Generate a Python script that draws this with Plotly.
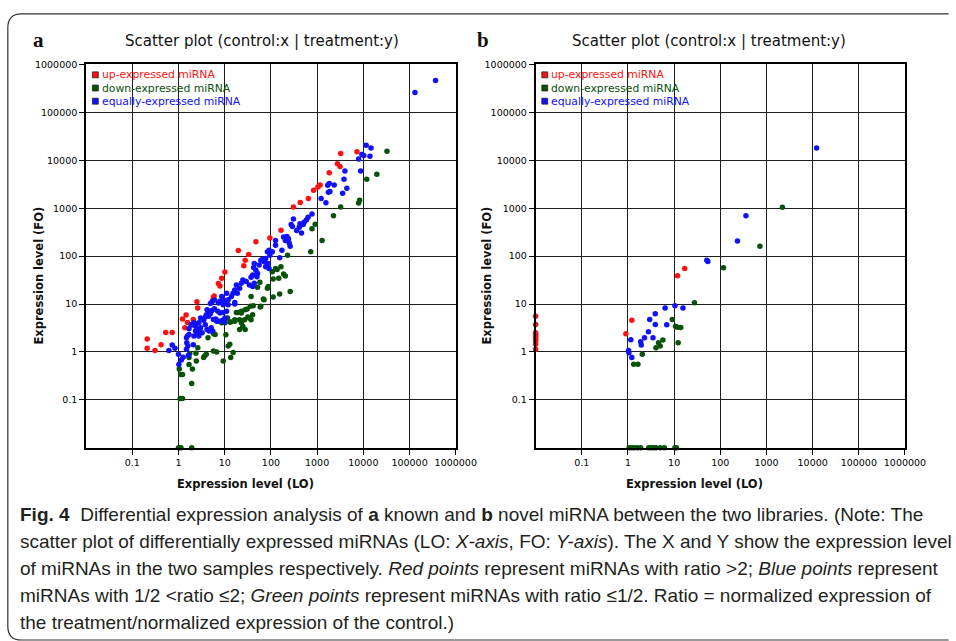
import plotly.graph_objects as go

W, H = 956, 641

# ---------------- data: panel a (known miRNA) ----------------
A_UP_X = [0.21, 0.21, 0.31, 0.42, 0.53, 0.73, 1.22, 1.37, 1.56, 1.46, 2.09, 2.6, 2.5,
          5.5, 5.7, 5.9, 7.3, 7.9, 8.6, 10.1, 19.7, 25.9, 27.8, 33, 47.4, 95, 165,
          307, 431, 647, 841, 1040, 1160, 1830, 2750, 3130, 3230, 7280]
A_UP_Y = [1.86, 1.19, 1.08, 1.42, 2.55, 2.55, 4.9, 3.2, 4.1, 5.9, 4.74, 8.3, 11.2,
          11.9, 13.7, 14.8, 27, 23.9, 34.4, 46.5, 131, 63, 82, 108, 200, 239, 349,
          1060, 1320, 1600, 2380, 2780, 3060, 5520, 8470, 7450, 13800, 15000]

A_DOWN_X = [32500, 19600, 11860, 8300, 7900, 3230, 2260, 910, 774, 1280, 727,
            229, 165, 136, 126, 188, 205, 148, 112, 107, 57.7, 87.5, 84, 51.3, 261, 155, 112, 71, 37.2, 68.7,
            60.5, 36, 41.6, 58.5, 30.6, 27.7, 22.9, 17.9, 22.9, 19.4, 40.2, 34.2, 31.6, 26.9, 21, 37.2,
            16.5, 22.9, 12.9, 24.7, 21, 27.7, 11.5, 13.5, 10.1, 8.6, 16.5, 5.7, 6.2, 4.35, 10.6, 11.9,
            12.9, 15.2, 13.5, 9.3, 6.7, 5.7, 2.62, 2.38, 4.0, 3.5, 3.7, 1.75, 1.69, 2.43, 1.69, 2.0,
            1.04, 1.13, 1.22, 1.93, 1.09, 1.22, 1.0, 1.13, 1.93]
A_DOWN_Y = [15400, 5090, 4010, 1475, 1280, 1060, 700, 465, 371, 213, 123,
            104, 60, 52.8, 55.5, 42.3, 38.5, 34.4, 33.3, 47.3, 28.5, 23.2, 21.4, 22.4, 18.3, 16.3, 14, 12.3, 14.4, 12.7,
            9, 9, 9.2, 8.7, 7.9, 7.6, 7.1, 6.7, 6.5, 6.7, 6.0, 5.1, 5.4, 4.7, 4.7, 4.7,
            4.7, 4.05, 4.2, 3.46, 2.94, 2.94, 5.1, 4.2, 4.05, 4.05, 4.4, 2.43, 2.32, 1.99, 2.29, 1.34,
            1.45, 0.97, 0.77, 0.65, 1.0, 1.05, 1.23, 0.94, 0.90, 0.77, 0.83, 0.93, 0.77, 0.65, 0.55, 0.44,
            0.44, 0.34, 0.34, 0.22, 0.107, 0.107, 0, 0, 0]

A_EQ_X = [131000, 366000, 11500, 14650, 9290, 10250, 13900, 7900, 8730, 4000, 3810, 4400, 3560,
          2340, 1830, 1690, 1750, 1890, 1220, 1550,
          774, 637, 586, 524, 425, 499, 411, 307, 274, 292, 361, 459, 240, 221, 188, 205, 261, 249,
          173, 155, 126, 126, 107, 95, 91, 84, 77, 71, 65.5, 60.5, 77, 91, 86.5, 55.7, 43.6, 42.3,
          47.4, 51.3, 40.2, 37.2, 49.8, 43.6, 34.2, 40.2, 29.2, 24.7, 22.9, 21, 17.9, 16.5, 15.2, 18.8,
          14, 11, 11.9, 9.3, 7.9, 10.1, 16.5, 7.3, 6.0, 5.3, 4.9, 8.6,
          0.62, 0.73, 0.84, 1.0, 1.02, 1.15, 1.26, 1.49, 1.59, 1.51, 1.56, 1.49, 1.69, 2.09, 1.64,
          2.16, 2.34, 2.55, 2.75, 3.0, 2.75, 3.24, 1.88, 2.16, 2.34, 1.69, 2.0, 2.75, 3.0, 3.5, 3.8,
          3.8, 4.0, 4.15, 4.5, 4.9, 4.5, 5.7, 6.4, 7.3, 5.1, 4.6, 5.5, 4.15, 6.7,
          7.1, 7.9, 9.3, 10.1, 8.9, 9.8, 9.3, 11, 11.9, 16.5, 5.3, 6.0]
A_EQ_Y = [260000, 460000, 20500, 18100, 13200, 12600, 12200, 10700, 5960, 5960, 4010, 2610, 2060,
          3060, 3270, 3010, 2160, 2240, 1600, 1300,
          759, 649, 570, 512, 472, 456, 403, 598, 456, 415, 343, 303, 231, 258, 250, 213, 160, 188,
          132, 92, 213, 168, 123, 104, 132, 123, 89, 76, 85, 82, 60, 55.5, 70, 65, 70, 58,
          51, 43.6, 40.3, 36.1, 37.3, 27.2, 25, 23.2, 29.4, 31.8, 27.2, 21.4, 25, 19.7, 16.9, 16.9,
          14.4, 16.9, 12.3, 12.3, 11.4, 10.5, 10.8, 10.5, 12.2, 11.0, 10.3, 14.4,
          1.08, 1.40, 1.19, 0.90, 0.55, 0.68, 0.78, 1.14, 1.34, 1.56, 2.15, 1.99, 2.32, 1.42, 0.85,
          2.15, 2.73, 2.52, 2.95, 3.19, 2.15, 2.52, 3.7, 4.05, 3.46, 3.04, 3.7, 4.05, 5.1, 4.6, 3.7,
          5.4, 6.0, 7.6, 7.1, 6.3, 5.6, 4.74, 4.9, 4.4, 3.19, 2.73, 2.73, 2.95, 4.4,
          7.1, 6.5, 6.7, 5.1, 4.6, 4.2, 9.7, 7.1, 9.7, 10.0, 7.3, 8.0]

# ---------------- data: panel b (novel miRNA) ----------------
B_UP_X = [0, 0, 0, 0, 0, 0, 0, 0, 0, 0, 0.90, 1.21, 11.8, 16.9]
B_UP_Y = [5.56, 3.73, 2.51, 2.32, 2.15, 1.99, 1.83, 1.69, 1.45, 1.14, 2.4, 4.6, 39.2, 55.5]

B_DOWN_X = [2210, 721, 117, 27.5, 9.1, 10.7, 11.8, 13.9, 12.2, 5.7, 4.58, 4.98, 4.04, 2.04, 1.33, 1.64,
            1.06, 1.21, 1.35, 1.6, 1.88, 2.81, 3.16, 3.59, 4.04, 4.98, 6.14, 10.4, 11.2]
B_DOWN_Y = [1045, 160, 57.3, 10.6, 4.75, 3.46, 3.30, 3.24, 1.56, 1.78, 1.56, 1.34, 1.22, 0.90, 0.557, 0.557,
            0, 0, 0, 0, 0, 0, 0, 0, 0, 0, 0, 0, 0]

B_EQ_X = [12200, 359, 235, 51, 53.6, 6.35, 10.4, 15.5, 3.9, 2.95, 3.9, 6.9, 2.28, 2.77, 3.48,
          1.88, 1.94, 1.15, 1.03, 1.045, 1.21]
B_EQ_Y = [18100, 700, 207, 82, 77, 8.3, 9.2, 8.3, 6.3, 4.75, 3.73, 3.68, 1.99, 2.64, 1.99,
          1.64, 1.40, 1.80, 1.08, 0.96, 0.77]

TICK_VALS = [0.1, 1, 10, 100, 1000, 10000, 100000, 1000000]
TICK_TEXT = ["0.1", "1", "10", "100", "1000", "10000", "100000", "1000000"]
SERIES = ["up-expressed miRNA", "down-expressed miRNA", "equally-expressed miRNA"]
COLORS = ["#ff1010", "#075207", "#1010ff"]
TITLE = "Scatter plot (control:x | treatment:y)"

AX_EXP = [-2, 6]
FLOOR = 10 ** AX_EXP[0]


def fl(vals):
    # zero expression is drawn on the axis floor
    return [v if v > 0 else FLOOR for v in vals]


def xp(p):
    return p / W


def yp(p):
    return 1 - p / H


fig = go.Figure()

panels = [
    ("x", "y", [(A_UP_X, A_UP_Y), (A_DOWN_X, A_DOWN_Y), (A_EQ_X, A_EQ_Y)]),
    ("x2", "y2", [(B_UP_X, B_UP_Y), (B_DOWN_X, B_DOWN_Y), (B_EQ_X, B_EQ_Y)]),
]
for xa, ya, series in panels:
    for (sx, sy), name, col in zip(series, SERIES, COLORS):
        fig.add_trace(go.Scatter(
            x=fl(sx), y=fl(sy), mode="markers", name=name, xaxis=xa, yaxis=ya,
            marker=dict(size=5.5, color=col, line=dict(width=0)),
            cliponaxis=False, showlegend=False))

axis_style = dict(
    type="log", range=AX_EXP, tickvals=TICK_VALS, ticktext=TICK_TEXT,
    showgrid=True, gridcolor="#1e1e1e", gridwidth=1.3,
    showline=True, linecolor="#000000", linewidth=1.8, mirror=True,
    ticks="outside", ticklen=5, tickcolor="#000000", tickwidth=1.3,
    tickfont=dict(family="DejaVu Sans", size=9.5, color="#000000"),
    zeroline=False, fixedrange=True,
)

Y_DOM = [yp(446), yp(59)]
A_X = [88, 466]
B_X = [547.7, 925.3]

fig.update_layout(
    width=W, height=H, autosize=False,
    margin=dict(l=0, r=0, t=0, b=0),
    paper_bgcolor="white", plot_bgcolor="white",
    xaxis=dict(axis_style, domain=[xp(A_X[0]), xp(A_X[1])], anchor="y"),
    yaxis=dict(axis_style, domain=Y_DOM, anchor="x"),
    xaxis2=dict(axis_style, domain=[xp(B_X[0]), xp(B_X[1])], anchor="y2"),
    yaxis2=dict(axis_style, domain=Y_DOM, anchor="x2"),
)

ann = []
shapes = []
title_font = dict(family="DejaVu Sans", size=15, color="#111111")
lab_font = dict(family="DejaVu Sans", size=11.5, color="#111111")
for (letter, lx, tx, fo_x, fo_y, lo_x, leg_x) in [
        ("a", 39, 268, 40, 272, 251, 94.5),
        ("b", 494, 725, 498, 272, 710, 554)]:
    ann.append(dict(text=f"<b>{letter}</b>", x=xp(lx), y=yp(34), xref="paper", yref="paper",
                    showarrow=False, xanchor="center", yanchor="middle",
                    font=dict(family="Liberation Serif", size=21, color="#111111")))
    ann.append(dict(text=TITLE, x=xp(tx), y=yp(35), xref="paper", yref="paper",
                    showarrow=False, xanchor="center", yanchor="middle", font=title_font))
    ann.append(dict(text="<b>Expression level (FO)</b>", x=xp(fo_x), y=yp(fo_y), xref="paper",
                    yref="paper", showarrow=False, textangle=-90, xanchor="center",
                    yanchor="middle", font=lab_font))
    ann.append(dict(text="<b>Expression level (LO)</b>", x=xp(lo_x), y=yp(483), xref="paper",
                    yref="paper", showarrow=False, xanchor="center", yanchor="middle",
                    font=lab_font))
    for i, (name, col) in enumerate(zip(SERIES, COLORS)):
        cy = 69.5 + i * 13.3
        shapes.append(dict(type="rect", xref="paper", yref="paper",
                           x0=xp(leg_x), x1=xp(leg_x + 6), y0=yp(cy + 3), y1=yp(cy - 3),
                           fillcolor=col, line=dict(color="#222222", width=0.8)))
        ann.append(dict(text=name, x=xp(leg_x + 7.5), y=yp(cy), xref="paper", yref="paper",
                        showarrow=False, xanchor="left", yanchor="middle",
                        font=dict(family="DejaVu Sans", size=10.8, color=col)))

# figure frame (rounded left corners)
r = 14
x0, yt, yb, xr = 8, 8, 640, 970
path = (f"M {xp(xr)},{yp(yt)} L {xp(x0 + r)},{yp(yt)} Q {xp(x0)},{yp(yt)} {xp(x0)},{yp(yt + r)} "
        f"L {xp(x0)},{yp(yb - r)} Q {xp(x0)},{yp(yb)} {xp(x0 + r)},{yp(yb)} L {xp(xr)},{yp(yb)}")
shapes.append(dict(type="path", path=path, xref="paper", yref="paper",
                   line=dict(color="#333333", width=1.2)))

CAPTION = [
    "<b>Fig. 4</b>  Differential expression analysis of <b>a</b> known and <b>b</b> novel miRNA between the two libraries. (Note: The",
    "scatter plot of differentially expressed miRNAs (LO: <i>X-axis</i>, FO: <i>Y-axis</i>). The X and Y show the expression level",
    "of miRNAs in the two samples respectively. <i>Red points</i> represent miRNAs with ratio &gt;2; <i>Blue points</i> represent",
    "miRNAs with 1/2 &lt;ratio ≤2; <i>Green points</i> represent miRNAs with ratio ≤1/2. Ratio = normalized expression of",
    "the treatment/normalized expression of the control.)",
]
for i, line in enumerate(CAPTION):
    ann.append(dict(text=line, x=xp(18), y=yp(513 + i * 27.3), xref="paper", yref="paper",
                    showarrow=False, xanchor="left", yanchor="middle",
                    font=dict(family="Liberation Sans Narrow, Liberation Sans", size=19,
                              color="#231f20")))

fig.update_layout(annotations=ann, shapes=shapes)
fig.write_html(
    "out.html", config={"displayModeBar": False},
    post_script=("document.documentElement.style.margin='0px';"
                 "document.body.style.margin='0px';document.body.style.overflow='hidden';"
                 "var d=document.getElementById('{plot_id}');"
                 "d.style.position='fixed';d.style.top='0px';d.style.left='0px';"))
